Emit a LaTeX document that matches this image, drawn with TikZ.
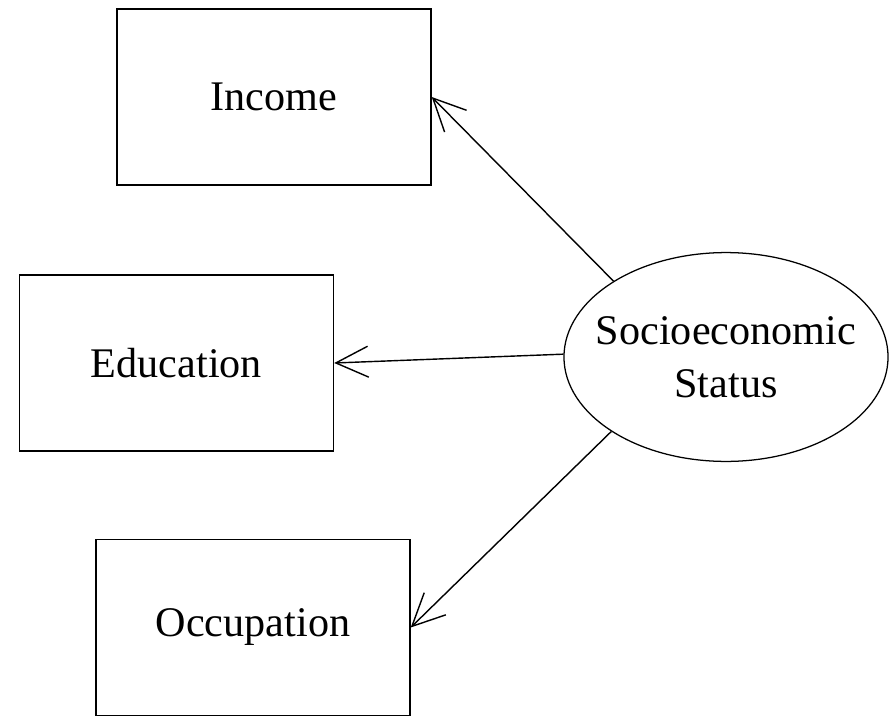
\documentclass[tikz,border=0pt]{standalone}
\usepackage{fontspec}
\setmainfont{Liberation Serif}
\usepackage{tikz}
\usetikzlibrary{shapes,arrows.meta,positioning,calc}

\begin{document}
\begin{tikzpicture}[x=0.025cm,y=-0.025cm,
    indicator/.style={draw,line width=1pt,minimum width=7.85cm,minimum height=4.4cm,inner sep=0pt,font=\fontsize{30}{37.5}\selectfont},
    latent/.style={draw,ellipse,line width=0.9pt,minimum width=8.1cm,minimum height=5.22cm,inner xsep=-0.4cm,inner ysep=0.5cm,align=center,font=\fontsize{30}{37.5}\selectfont},
    loading/.style={-{Straight Barb[length=23pt,width=22pt,line width=1pt]},line width=1pt}]
    \useasboundingbox (0,0) rectangle (890,717);

    % Observed indicators
    \node[indicator] (income) at (274,97) {Income};
    \node[indicator] (education) at (176.5,363) {Education};
    \node[indicator] (occupation) at (253,627.5) {Occupation};

    % Latent factor
    \node[latent] (ses) at (726,357) {Socioeconomic\\Status};

    % Loadings
    \draw[loading] (ses.146) -- (income.east);
    \draw[loading] (ses.179) -- (education.east);
    \draw[loading] (ses.213) -- (occupation.east);
\end{tikzpicture}
\end{document}
